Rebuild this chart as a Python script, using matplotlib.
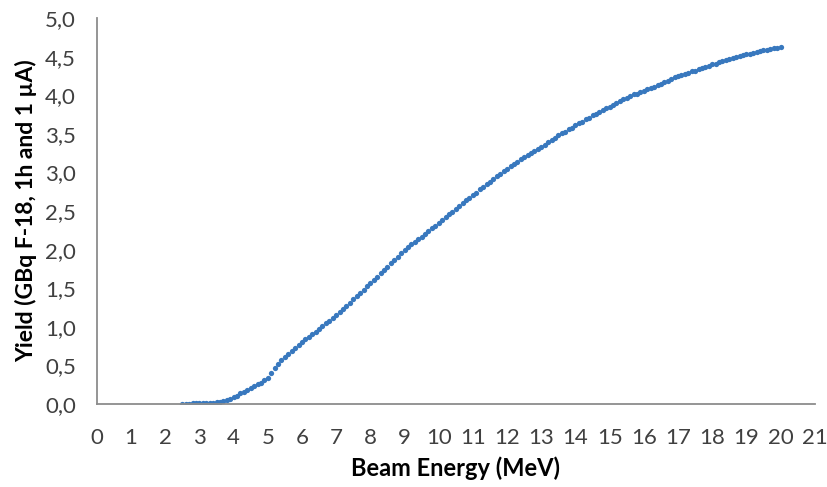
import numpy as np
import matplotlib
matplotlib.use('Agg')
from matplotlib import pyplot as plt
from matplotlib.ticker import FuncFormatter

# beam energy grid (MeV), 0.1 MeV steps as in the source table
energy = np.round(np.arange(2.5, 20.05, 0.1), 1)

# yield (GBq F-18, 1h, 1 uA)
yield_gbq = [
    0.00, 0.00, 0.00, 0.01, 0.01,                                       # 2.5-2.9
    0.01, 0.01, 0.02, 0.02, 0.02, 0.03, 0.03, 0.04, 0.05, 0.07,         # 3
    0.09, 0.11, 0.14, 0.16, 0.19, 0.21, 0.23, 0.26, 0.28, 0.31,         # 4
    0.34, 0.40, 0.47, 0.52, 0.57, 0.61, 0.65, 0.69, 0.73, 0.77,         # 5
    0.80, 0.84, 0.87, 0.91, 0.94, 0.98, 1.01, 1.05, 1.08, 1.12,         # 6
    1.15, 1.19, 1.23, 1.27, 1.31, 1.36, 1.40, 1.44, 1.48, 1.53,         # 7
    1.57, 1.61, 1.65, 1.70, 1.74, 1.78, 1.83, 1.87, 1.91, 1.96,         # 8
    2.00, 2.03, 2.07, 2.10, 2.14, 2.17, 2.21, 2.24, 2.28, 2.31,         # 9
    2.35, 2.39, 2.42, 2.46, 2.49, 2.53, 2.57, 2.60, 2.64, 2.67,         # 10
    2.71, 2.74, 2.78, 2.81, 2.85, 2.88, 2.92, 2.95, 2.98, 3.02,         # 11
    3.05, 3.08, 3.11, 3.14, 3.17, 3.20, 3.23, 3.25, 3.28, 3.30,         # 12
    3.33, 3.36, 3.39, 3.42, 3.45, 3.48, 3.51, 3.53, 3.56, 3.58,         # 13
    3.61, 3.64, 3.66, 3.69, 3.71, 3.74, 3.76, 3.78, 3.81, 3.83,         # 14
    3.85, 3.87, 3.90, 3.92, 3.95, 3.97, 3.99, 4.01, 4.02, 4.04,         # 15
    4.06, 4.08, 4.10, 4.11, 4.13, 4.15, 4.17, 4.19, 4.21, 4.23,         # 16
    4.25, 4.26, 4.28, 4.29, 4.31, 4.32, 4.34, 4.35, 4.37, 4.38,         # 17
    4.40, 4.41, 4.43, 4.44, 4.46, 4.47, 4.48, 4.50, 4.51, 4.52,         # 18
    4.53, 4.54, 4.55, 4.56, 4.57, 4.58, 4.59, 4.60, 4.61, 4.61,         # 19
    4.62,                                                               # 20
]

x_ticks = list(range(0, 22))
y_ticks = [0.0, 0.5, 1.0, 1.5, 2.0, 2.5, 3.0, 3.5, 4.0, 4.5, 5.0]

plt.rcParams['font.family'] = ['Lato', 'DejaVu Sans']

fig = plt.figure(figsize=(8.28, 4.87), dpi=100)
ax = fig.add_axes([0.117, 0.170, 0.867, 0.793])

ax.plot(energy, yield_gbq, linestyle='none', marker='o', markersize=3.8,
        color='#3878BE', markeredgewidth=0)

ax.set_xlim(0, 21)
ax.set_ylim(0, 5)
ax.set_xticks(x_ticks)
ax.set_yticks(y_ticks)
ax.yaxis.set_major_formatter(FuncFormatter(lambda v, p: ('%.1f' % v).replace('.', ',')))
ax.tick_params(length=0, labelsize=16, colors='#404040')
ax.tick_params(axis='x', pad=17)
ax.tick_params(axis='y', pad=15)

for s in ['top', 'right']:
    ax.spines[s].set_visible(False)
for s in ['left', 'bottom']:
    ax.spines[s].set_color('#8c8c8c')
    ax.spines[s].set_linewidth(1.3)

ax.set_xlabel('Beam Energy (MeV)', fontsize=17, fontweight='bold', labelpad=6)
ax.set_ylabel('Yield (GBq F-18, 1h and 1 \u00b5A)', fontsize=16.5, fontweight='bold', labelpad=6)

fig.savefig('out.png', dpi=100)
